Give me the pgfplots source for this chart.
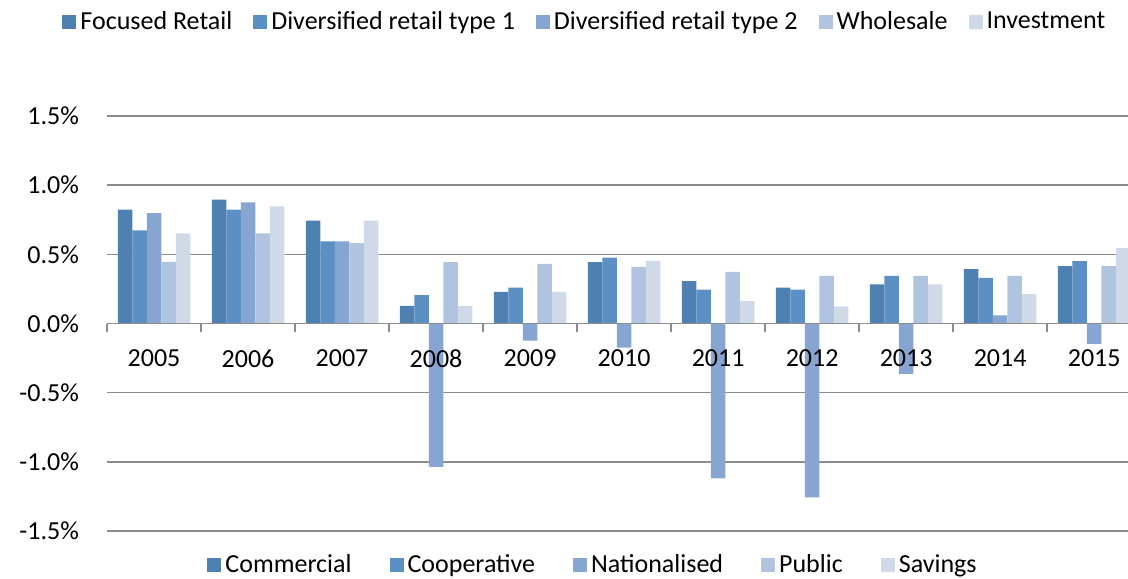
\documentclass[border=0pt]{standalone}
\usepackage{pgfplots}
\pgfplotsset{compat=1.18}
\usepackage{fontspec}
\setmainfont{Carlito}

\definecolor{cCom}{HTML}{4E80B2}
\definecolor{cCoop}{HTML}{5C8FC4}
\definecolor{cNat}{HTML}{86A6D1}
\definecolor{cPub}{HTML}{B0C4E0}
\definecolor{cSav}{HTML}{D0D9E8}
\definecolor{gridgray}{HTML}{8C8C8C}

\pgfplotsset{
  sq/.style={fill=#1, draw=none,
    legend image code/.code={\fill[#1] (0pt,-3.5pt) rectangle (7pt,3.5pt);}},
  frame/.style={
    at={(0,0)}, anchor=south west,
    scale only axis,
    width=510.5pt, height=207.5pt,
    xmin=-0.5, xmax=10.36,
    ymin=-1.5, ymax=1.5,
  },
}

\begin{document}
\begin{tikzpicture}
% top legend, same colours
\begin{axis}[
    frame,
    hide axis,
    legend columns=5,
    legend style={at={(0.469,1.227)}, anchor=center, draw=none, fill=none,
        font=\fontsize{13}{15}\selectfont,
        /tikz/every even column/.append style={column sep=8.5pt}},
]
\addlegendimage{sq=cCom}
\addlegendentry{Focused Retail}
\addlegendimage{sq=cCoop}
\addlegendentry{Diversified retail type 1}
\addlegendimage{sq=cNat}
\addlegendentry{Diversified retail type 2}
\addlegendimage{sq=cPub}
\addlegendentry{Wholesale}
\addlegendimage{sq=cSav}
\addlegendentry{Investment}
\end{axis}

% grid and bars
\begin{axis}[
    frame,
    ybar=0pt, bar width=7.25pt,
    axis line style={draw=none},
    ytick={-1.5,-1,-0.5,0,0.5,1,1.5},
    yticklabels={},
    xtick=\empty,
    tick style={draw=none},
    ymajorgrids,
    grid style={draw=gridgray, line width=0.8pt},
    legend columns=5,
    legend style={at={(0.477,-0.082)}, anchor=center, draw=none, fill=none,
        font=\fontsize{13}{15}\selectfont,
        /tikz/every even column/.append style={column sep=17pt}},
]
% Commercial
\addplot[sq=cCom] coordinates {(0,0.823) (1,0.895) (2,0.744) (3,0.128) (4,0.229)
    (5,0.443) (6,0.306) (7,0.260) (8,0.282) (9,0.393) (10,0.414)};
% Cooperative
\addplot[sq=cCoop] coordinates {(0,0.674) (1,0.823) (2,0.593) (3,0.205) (4,0.260)
    (5,0.476) (6,0.244) (7,0.244) (8,0.344) (9,0.330) (10,0.450)};
% Nationalised
\addplot[sq=cNat] coordinates {(0,0.798) (1,0.875) (2,0.593) (3,-1.037) (4,-0.124)
    (5,-0.175) (6,-1.120) (7,-1.257) (8,-0.364) (9,0.058) (10,-0.148)};
% Public
\addplot[sq=cPub] coordinates {(0,0.445) (1,0.651) (2,0.581) (3,0.443) (4,0.431)
    (5,0.410) (6,0.373) (7,0.344) (8,0.344) (9,0.344) (10,0.414)};
% Savings
\addplot[sq=cSav] coordinates {(0,0.651) (1,0.846) (2,0.744) (3,0.128) (4,0.229)
    (5,0.452) (6,0.162) (7,0.123) (8,0.282) (9,0.212) (10,0.545)};
\legend{Commercial, Cooperative, Nationalised, Public, Savings}
\end{axis}

% zero axis, ticks and labels drawn over the bars
\begin{axis}[
    frame,
    axis x line=middle, axis y line=left,
    x axis line style={-, draw=gridgray, line width=0.8pt},
    y axis line style={draw=none},
    ytick={-1.5,-1,-0.5,0,0.5,1,1.5},
    yticklabels={-1.5\%,-1.0\%,-0.5\%,0.0\%,0.5\%,1.0\%,1.5\%},
    ytick style={draw=none},
    xtick={-0.5,0.5,...,9.5},
    xticklabels={},
    xtick style={draw=gridgray, line width=0.8pt},
    tick align=outside,
    major tick length=4pt,
    extra x ticks={0,1,2,3,4,5,6,7,8,9,10},
    extra x tick labels={2005,2006,2007,2008,2009,2010,2011,2012,2013,2014,2015},
    extra x tick style={major tick length=0pt, tick style={draw=none}},
    hide obscured x ticks=false,
    tick label style={font=\fontsize{13}{15}\selectfont, black},
    yticklabel style={xshift=-6.5pt},
    xticklabel style={yshift=-9.5pt},
]
\end{axis}

\pgfresetboundingbox
\path (-53.5pt,-23.5pt) rectangle (510.5pt,265.5pt);
\end{tikzpicture}
\end{document}
